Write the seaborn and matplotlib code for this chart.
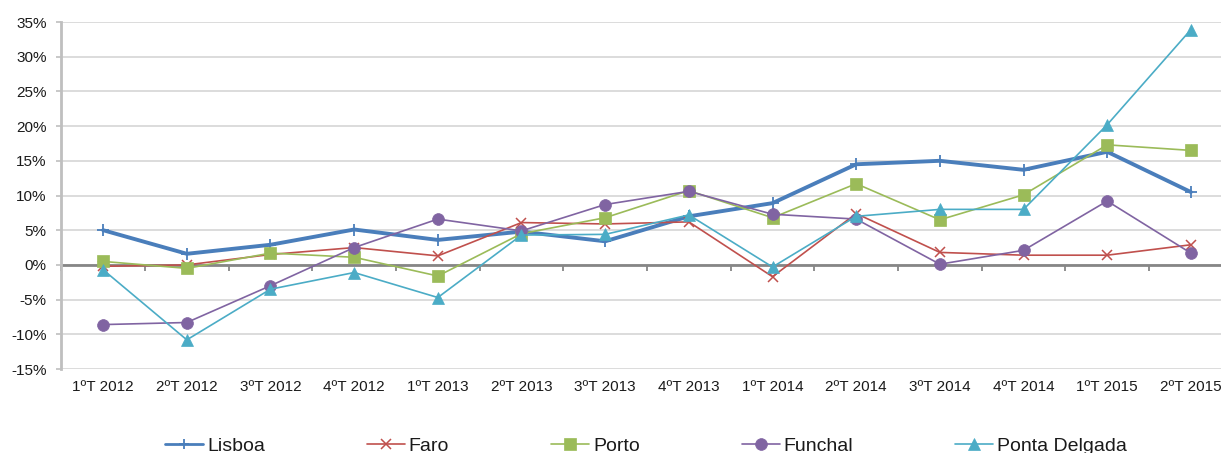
import numpy as np
import pandas as pd
import matplotlib
matplotlib.use("Agg")
import matplotlib.pyplot as plt
from matplotlib.ticker import FixedLocator, FuncFormatter
import seaborn as sns

# Quarterly variation (%) by city
quarters = ['1ºT 2012', '2ºT 2012', '3ºT 2012', '4ºT 2012',
            '1ºT 2013', '2ºT 2013', '3ºT 2013', '4ºT 2013',
            '1ºT 2014', '2ºT 2014', '3ºT 2014', '4ºT 2014',
            '1ºT 2015', '2ºT 2015']
lisboa = [5.0, 1.6, 2.9, 5.1, 3.6, 4.8, 3.4, 7.0, 8.9, 14.5, 15.0, 13.7, 16.3, 10.5]
faro = [-0.2, 0.0, 1.5, 2.5, 1.3, 6.1, 5.9, 6.2, -1.7, 7.4, 1.8, 1.4, 1.4, 2.9]
porto = [0.5, -0.5, 1.7, 1.1, -1.6, 4.5, 6.8, 10.7, 6.8, 11.7, 6.5, 10.1, 17.3, 16.5]
funchal = [-8.6, -8.3, -3.0, 2.5, 6.6, 4.9, 8.7, 10.6, 7.3, 6.6, 0.1, 2.1, 9.2, 1.7]
ponta_delgada = [-0.7, -10.8, -3.5, -1.1, -4.7, 4.3, 4.4, 7.2, -0.3, 7.0, 8.0, 8.0, 20.2, 33.9]

cities = ['Lisboa', 'Faro', 'Porto', 'Funchal', 'Ponta Delgada']
series = [lisboa, faro, porto, funchal, ponta_delgada]

styles = {
    'Lisboa':        dict(color='#4A7EBB', marker='+', lw=2.8, ms=9,  mew=1.3),
    'Faro':          dict(color='#C0504D', marker='x', lw=1.2, ms=7.5, mew=1.1),
    'Porto':         dict(color='#9BBB59', marker='s', lw=1.2, ms=8,  mew=0.5),
    'Funchal':       dict(color='#8064A2', marker='o', lw=1.2, ms=8.5, mew=0.5),
    'Ponta Delgada': dict(color='#4BACC6', marker='^', lw=1.2, ms=8.5, mew=0.5),
}

df = pd.DataFrame({
    'pos': np.tile(np.arange(len(quarters)), len(cities)),
    'Cidade': np.repeat(cities, len(quarters)),
    'Variação': np.concatenate(series),
})

sns.set_theme(style='white')
plt.rcParams['font.family'] = ['Liberation Sans', 'DejaVu Sans']
text_color = '#1a1a1a'

fig = plt.figure(figsize=(12.21, 4.53), dpi=100)
ax = fig.add_axes([61.3 / 1221, 1 - 369 / 453, 1171.4 / 1221, 347 / 453])

# horizontal gridlines
for v in range(-15, 40, 5):
    ax.axhline(v, color='#D9D9D9', lw=1.3, zorder=0)

for city in cities:
    st = styles[city]
    sub = df[df['Cidade'] == city]
    sns.lineplot(data=sub, x='pos', y='Variação', ax=ax, color=st['color'],
                 linewidth=st['lw'], marker=st['marker'], markersize=st['ms'],
                 markeredgewidth=st['mew'], markeredgecolor=st['color'],
                 markerfacecolor=st['color'], label=city, legend=False, zorder=3)

ax.set_xlim(-0.5, len(quarters) - 0.5)
ax.set_ylim(-15, 35)
ax.set_xlabel('')
ax.set_ylabel('')

# category labels along the bottom
ax.set_xticks(np.arange(len(quarters)))
ax.set_xticklabels(quarters)
ax.tick_params(axis='x', length=0, pad=8, labelsize=11, labelcolor=text_color)

ax.yaxis.set_major_locator(FixedLocator(np.arange(-15, 40, 5)))
ax.yaxis.set_major_formatter(FuncFormatter(lambda v, p: f'{int(round(v))}%'))
ax.tick_params(axis='y', direction='out', length=3.5, width=1.2, color='#BFBFBF',
               pad=7, labelsize=11, labelcolor=text_color, left=True)

for side in ['top', 'right', 'bottom']:
    ax.spines[side].set_visible(False)
ax.spines['left'].set_color('#BFBFBF')
ax.spines['left'].set_linewidth(2)
ax.spines['left'].set_zorder(1)

# horizontal axis line at zero with category boundary ticks
sec = ax.secondary_xaxis(0.3)
sec.set_xticks(np.arange(-0.5, len(quarters), 1.0))
sec.set_xticklabels([])
sec.tick_params(axis='x', direction='out', length=4.5, width=1.3, color='#868686')
sec.spines['bottom'].set_color('#868686')
sec.spines['bottom'].set_linewidth(2)

lh, ll = ax.get_legend_handles_labels()
leg = fig.legend(lh, ll, loc='center', bbox_to_anchor=(646 / 1221, 1 - 446 / 453),
                 ncol=5, frameon=False, fontsize=14, handlelength=1.95,
                 handletextpad=0.2, columnspacing=5.25, borderpad=0, numpoints=1,
                 labelcolor=text_color)
for h in leg.legend_handles:
    if h.get_linewidth() > 2:
        h.set_linewidth(2.0)
        h.set_markersize(7)

fig.savefig('out.png', dpi=100)
